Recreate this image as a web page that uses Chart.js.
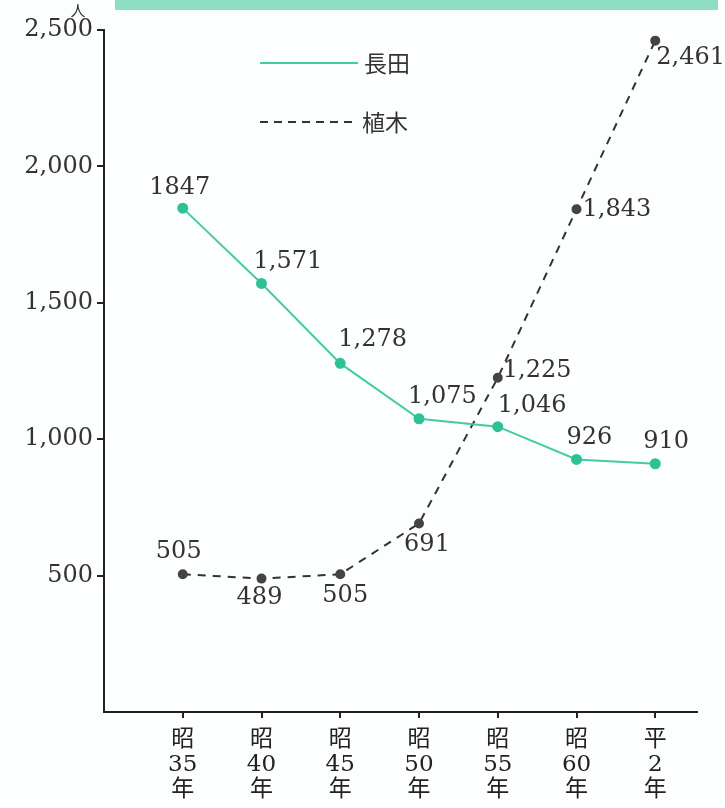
<!DOCTYPE html>
<html>
<head>
<meta charset="utf-8">
<script src="https://cdn.jsdelivr.net/npm/chart.js@4"></script>
<style>
  body { margin: 0; background: #fdfefe; }
  #wrap { width: 725px; height: 808px; }
</style>
</head>
<body>
<div id="wrap"><canvas id="canvas" width="725" height="808"></canvas></div>
<script>
// data
const eraLabels = ['昭', '昭', '昭', '昭', '昭', '昭', '平'];
const yearLabels = ['35', '40', '45', '50', '55', '60', '2'];
const nagata = [1847, 1571, 1278, 1075, 1046, 926, 910];
const nagataText = ['1847', '1,571', '1,278', '1,075', '1,046', '926', '910'];
const ueki = [505, 489, 505, 691, 1225, 1843, 2461];
const uekiText = ['505', '489', '505', '691', '1,225', '1,843', '2,461'];
const yTicks = [500, 1000, 1500, 2000, 2500];

const serif = '"DejaVu Serif", "Noto Sans CJK JP", serif';
const teal = '#40cda5';

// where each value label sits next to its point [dx, dy, align]
const nagataPos = [[-3,-20,'center'],[-8,-22,'left'],[-2,-24,'left'],[-11,-22,'left'],[0,-21,'left'],[-10,-22,'left'],[-12,-22,'left']];
const uekiPos = [[-4,-22,'center'],[-2,19,'center'],[5,22,'center'],[8,21,'center'],[5,-7,'left'],[6,1,'left'],[1,17,'left']];

const decor = {
    id: 'decor',
    beforeDraw(chart) {
        const c = chart.ctx;
        c.save();
        c.fillStyle = '#8ddfc2';
        c.fillRect(115, 0, 603, 10);
        c.fillStyle = '#333';
        c.font = '15px "Noto Sans CJK JP"';
        c.textAlign = 'center';
        c.textBaseline = 'middle';
        c.fillText('人', 78, 10);
        c.restore();
    },
    afterDatasetsDraw(chart) {
        const c = chart.ctx;
        c.save();
        // value labels
        c.font = '24px ' + serif;
        c.fillStyle = '#333';
        c.textBaseline = 'middle';
        [[nagataText, nagataPos], [uekiText, uekiPos]].forEach((pair, d) => {
            const meta = chart.getDatasetMeta(d);
            meta.data.forEach((pt, i) => {
                const p = pair[1][i];
                c.textAlign = p[2];
                c.fillText(pair[0][i], pt.x + p[0], pt.y + p[1]);
            });
        });
        // legend
        c.lineWidth = 2;
        c.strokeStyle = teal;
        c.beginPath(); c.moveTo(260, 63); c.lineTo(358, 63); c.stroke();
        c.strokeStyle = '#333';
        c.setLineDash([8, 6]);
        c.beginPath(); c.moveTo(260, 122); c.lineTo(358, 122); c.stroke();
        c.setLineDash([]);
        c.font = '23px "Noto Sans CJK JP"';
        c.textAlign = 'left';
        c.fillText('長田', 364, 63);
        c.fillText('植木', 362, 122);
        c.restore();
    }
};

const ctx = document.getElementById('canvas').getContext('2d');
const myChart = new Chart(ctx, {
    type: 'line',
    data: {
        datasets: [{
            label: '長田',
            data: nagata.map((v, i) => ({x: i, y: v})),
            borderColor: teal,
            backgroundColor: '#2fc196',
            pointBackgroundColor: '#2fc196',
            pointBorderColor: '#2fc196',
            pointRadius: 4.5,
            borderWidth: 2,
            clip: false
        }, {
            label: '植木',
            data: ueki.map((v, i) => ({x: i, y: v})),
            borderColor: '#333',
            borderDash: [8, 7],
            backgroundColor: '#444',
            pointBackgroundColor: '#444',
            pointBorderColor: '#444',
            pointRadius: 4,
            borderWidth: 2,
            clip: false
        }]
    },
    options: {
        responsive: false,
        animation: false,
        layout: { padding: { top: 30, right: 28, left: 0, bottom: 0 } },
        plugins: { legend: { display: false }, tooltip: { enabled: false } },
        scales: {
            x: {
                type: 'linear',
                min: -1.0,
                max: 6.53,
                afterBuildTicks(scale) {
                    scale.ticks = yearLabels.map((_, i) => ({ value: i }));
                },
                afterFit(scale) { scale.height = 96; },
                border: { color: '#222', width: 2 },
                grid: { drawOnChartArea: false, tickLength: 6, color: '#222', lineWidth: 2 },
                ticks: {
                    autoSkip: false,
                    maxRotation: 0,
                    padding: 9,
                    color: '#222',
                    font: { family: serif, size: 23, lineHeight: 1.1 },
                    callback: (v) => [eraLabels[v], yearLabels[v], '年']
                }
            },
            y: {
                min: 0,
                max: 2500,
                afterBuildTicks(scale) {
                    scale.ticks = yTicks.map(v => ({ value: v }));
                },
                afterFit(scale) { scale.width = 104; },
                border: { color: '#222', width: 2 },
                grid: { drawOnChartArea: false, tickLength: 7, color: '#222', lineWidth: 2 },
                ticks: {
                    padding: 4,
                    color: '#333',
                    font: { family: serif, size: 24 },
                    callback: (v) => v.toLocaleString('en-US')
                }
            }
        }
    },
    plugins: [decor]
});
</script>
</body>
</html>
